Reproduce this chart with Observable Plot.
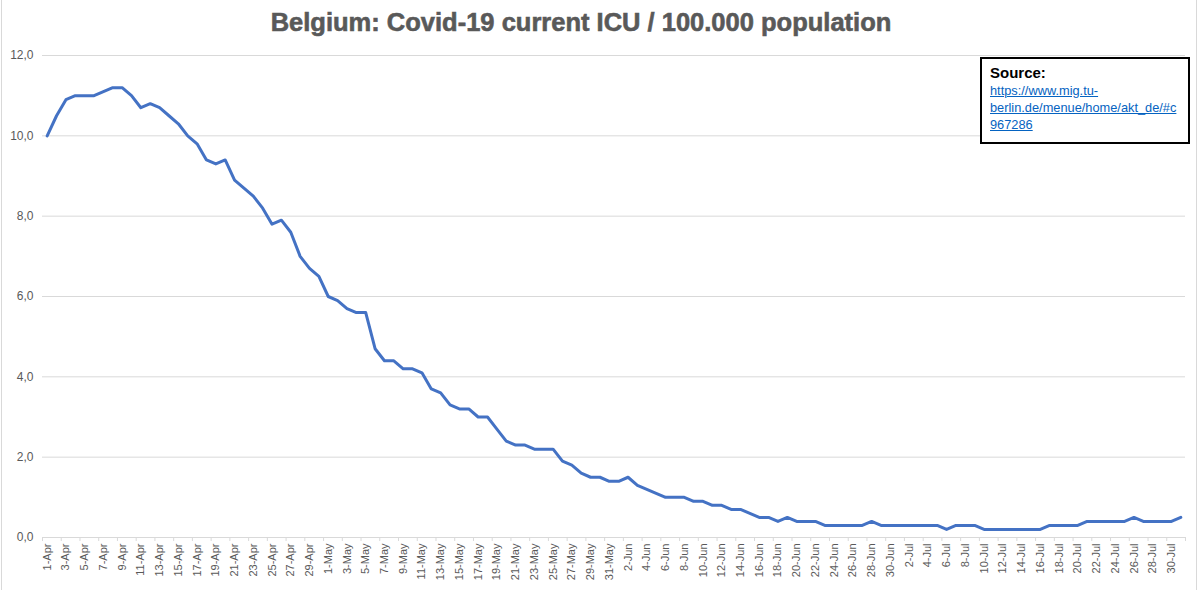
<!DOCTYPE html>
<html>
<head>
<meta charset="utf-8">
<script src="https://cdn.jsdelivr.net/npm/d3@7"></script>
<script src="https://cdn.jsdelivr.net/npm/@observablehq/plot@0.6"></script>
<style>
  html, body { margin: 0; padding: 0; background: #fff; }
  #wrap { position: relative; width: 1200px; height: 590px; overflow: hidden; }
  #frame { position: absolute; left: 1px; top: -4px; width: 1196px; height: 600px; border: 1px solid #D9D9D9; box-sizing: border-box; pointer-events: none; }
  #title { position: absolute; left: 0; top: 7px; width: 1162px; text-align: center; font: bold 25.5px "Liberation Sans", Arial, sans-serif; color: #595959; line-height: 30px; -webkit-text-stroke: 0.6px #595959; }
  #chart { position: absolute; left: 0; top: 0; }
  #source { position: absolute; left: 980px; top: 57px; width: 210px; height: 87px; box-sizing: border-box; border: 2px solid #000; background: #fff; padding: 5px 8px; font-family: "Liberation Sans", Arial, sans-serif; }
  #source .h { font-weight: bold; font-size: 15px; color: #000; line-height: 18px; }
  #source a { font-size: 12.8px; color: #0563C1; text-decoration: underline; line-height: 17px; display: block; }
</style>
</head>
<body>
<div id="wrap">
  <div id="chart"></div>
  <div id="title">Belgium: Covid-19 current ICU / 100.000 population</div>
  <div id="source"><div class="h">Source:</div><a>https://www.mig.tu-<br>berlin.de/menue/home/akt_de/#c<br>967286</a></div>
  <div id="frame"></div>
</div>
<script>
// ICU patients per 100,000 population, daily from 1 April to 31 July
const icuValues = [
  10.0, 10.5, 10.9, 11.0, 11.0, 11.0, 11.1, 11.2, 11.2, 11.0,
  10.7, 10.8, 10.7, 10.5, 10.3, 10.0, 9.8, 9.4, 9.3, 9.4,
  8.9, 8.7, 8.5, 8.2, 7.8, 7.9, 7.6, 7.0, 6.7, 6.5,
  6.0, 5.9, 5.7, 5.6, 5.6, 4.7, 4.4, 4.4, 4.2, 4.2,
  4.1, 3.7, 3.6, 3.3, 3.2, 3.2, 3.0, 3.0, 2.7, 2.4,
  2.3, 2.3, 2.2, 2.2, 2.2, 1.9, 1.8, 1.6, 1.5, 1.5,
  1.4, 1.4, 1.5, 1.3, 1.2, 1.1, 1.0, 1.0, 1.0, 0.9,
  0.9, 0.8, 0.8, 0.7, 0.7, 0.6, 0.5, 0.5, 0.4, 0.5,
  0.4, 0.4, 0.4, 0.3, 0.3, 0.3, 0.3, 0.3, 0.4, 0.3,
  0.3, 0.3, 0.3, 0.3, 0.3, 0.3, 0.2, 0.3, 0.3, 0.3,
  0.2, 0.2, 0.2, 0.2, 0.2, 0.2, 0.2, 0.3, 0.3, 0.3,
  0.3, 0.4, 0.4, 0.4, 0.4, 0.4, 0.5, 0.4, 0.4, 0.4,
  0.4, 0.5
];
const firstDay = new Date(Date.UTC(2020, 3, 1));
const lastDayExclusive = new Date(Date.UTC(2020, 7, 1));
const yTicks = [0, 2, 4, 6, 8, 10, 12];

const dayLabels = d3.utcDay.range(firstDay, lastDayExclusive).map(d3.utcFormat("%-d-%b"));
const data = icuValues.map((v, i) => ({i, v, label: dayLabels[i]}));
const labelIdx = d3.range(0, dayLabels.length, 2);
const boundaryIdx = d3.range(-0.5, dayLabels.length, 2);

const chart = Plot.plot({
  width: 1200,
  height: 590,
  marginLeft: 42,
  marginRight: 15,
  marginTop: 55,
  marginBottom: 53,
  style: {fontFamily: "'Liberation Sans', Arial, sans-serif", background: "transparent", color: "#595959"},
  x: {type: "linear", domain: [-0.5, dayLabels.length - 0.5]},
  y: {domain: [0, 12]},
  marks: [
    Plot.gridY(yTicks.filter(d => d > 0), {stroke: "#D9D9D9", strokeOpacity: 1}),
    Plot.ruleY([0], {stroke: "#D9D9D9"}),
    Plot.axisY({ticks: yTicks, tickSize: 0, tickPadding: 9, fontSize: 12, fill: "#595959",
      tickFormat: d => d.toFixed(1).replace(".", ","), label: null}),
    Plot.axisX({ticks: boundaryIdx, tickSize: 4, stroke: "#D9D9D9", strokeOpacity: 1, tickFormat: () => "", label: null}),
    Plot.axisX({ticks: labelIdx, tickSize: 0, tickPadding: 6, tickRotate: -90, fontSize: 11, fill: "#595959",
      tickFormat: i => dayLabels[i], label: null}),
    Plot.line(data, {x: "i", y: "v", stroke: "#4472C4", strokeWidth: 3, strokeLinejoin: "round", strokeLinecap: "round"})
  ]
});
document.getElementById("chart").appendChild(chart);
</script>
</body>
</html>
